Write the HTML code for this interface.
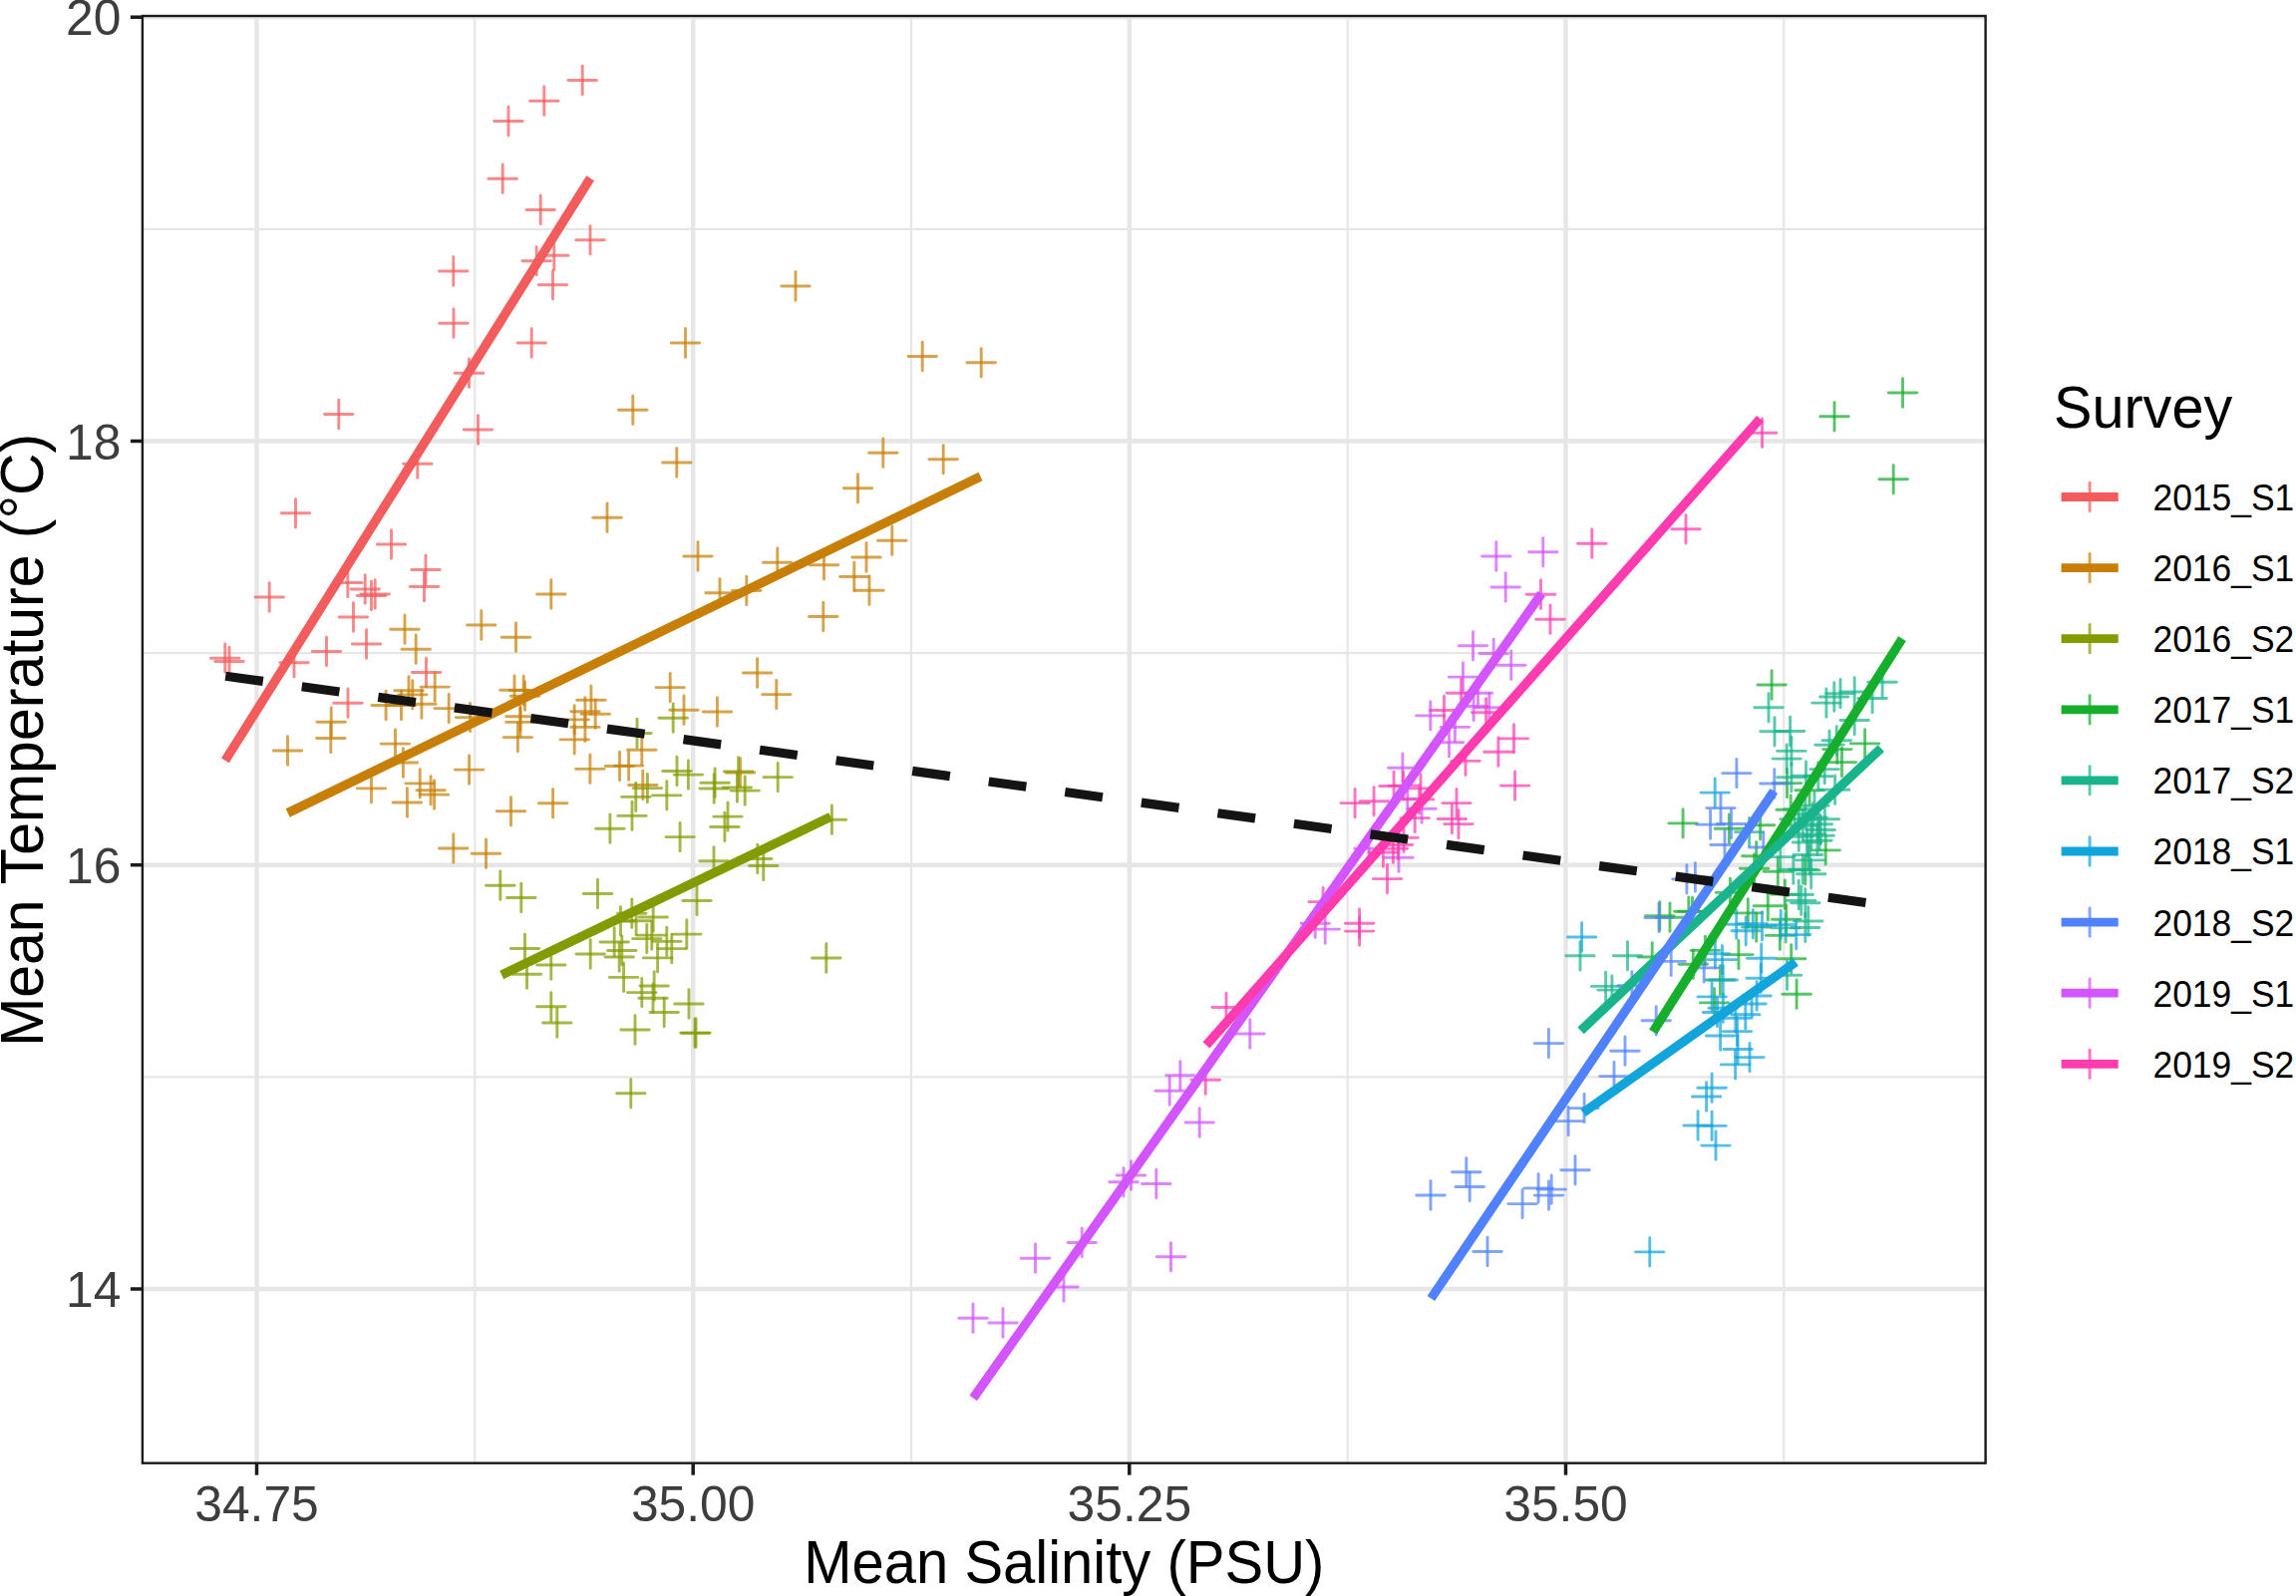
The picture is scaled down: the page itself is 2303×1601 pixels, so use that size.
<!DOCTYPE html><html><head><meta charset="utf-8"><title>Mean Temperature vs Mean Salinity</title>
<style>html,body{margin:0;padding:0;background:#fff}body{width:2303px;height:1601px;overflow:hidden}svg{display:block}text{font-family:"Liberation Sans",sans-serif}</style></head><body>
<svg width="2303" height="1601" viewBox="0 0 2303 1601">
<rect width="2303" height="1601" fill="#fff"/>
<g stroke="#e6e6e6" fill="none">
<line x1="476.3" x2="476.3" y1="16.0" y2="1467.7" stroke-width="2.2"/>
<line x1="914.0" x2="914.0" y1="16.0" y2="1467.7" stroke-width="2.2"/>
<line x1="1351.7" x2="1351.7" y1="16.0" y2="1467.7" stroke-width="2.2"/>
<line x1="1789.3" x2="1789.3" y1="16.0" y2="1467.7" stroke-width="2.2"/>
<line x1="142.9" x2="1991.6" y1="229.8" y2="229.8" stroke-width="2.2"/>
<line x1="142.9" x2="1991.6" y1="655.1" y2="655.1" stroke-width="2.2"/>
<line x1="142.9" x2="1991.6" y1="1080.4" y2="1080.4" stroke-width="2.2"/>
<line x1="257.5" x2="257.5" y1="16.0" y2="1467.7" stroke-width="4.4"/>
<line x1="695.2" x2="695.2" y1="16.0" y2="1467.7" stroke-width="4.4"/>
<line x1="1132.8" x2="1132.8" y1="16.0" y2="1467.7" stroke-width="4.4"/>
<line x1="1570.5" x2="1570.5" y1="16.0" y2="1467.7" stroke-width="4.4"/>
<line x1="142.9" x2="1991.6" y1="17.2" y2="17.2" stroke-width="4.4"/>
<line x1="142.9" x2="1991.6" y1="442.5" y2="442.5" stroke-width="4.4"/>
<line x1="142.9" x2="1991.6" y1="867.7" y2="867.7" stroke-width="4.4"/>
<line x1="142.9" x2="1991.6" y1="1293.0" y2="1293.0" stroke-width="4.4"/>
</g>
<clipPath id="cp"><rect x="142.9" y="16.0" width="1848.7" height="1451.7"/></clipPath>
<g clip-path="url(#cp)">
<g stroke="#F25C5C" stroke-opacity="0.72" stroke-width="2.9" stroke-linecap="round" fill="none"><path d="M570.0 80.5h28.4"/><path d="M584.2 66.3v28.4"/><path d="M531.6 101.2h28.4"/><path d="M545.8 87.0v28.4"/><path d="M495.8 121.5h28.4"/><path d="M510.0 107.3v28.4"/><path d="M490.0 179.2h28.4"/><path d="M504.2 165.0v28.4"/><path d="M528.0 210.5h28.4"/><path d="M542.2 196.3v28.4"/><path d="M577.8 240.8h28.4"/><path d="M592.0 226.6v28.4"/><path d="M541.6 256.2h28.4"/><path d="M555.8 242.0v28.4"/><path d="M524.0 261.8h28.4"/><path d="M538.2 247.6v28.4"/><path d="M540.3 285.8h28.4"/><path d="M554.5 271.6v28.4"/><path d="M440.6 272.0h28.4"/><path d="M454.8 257.8v28.4"/><path d="M440.8 324.2h28.4"/><path d="M455.0 310.0v28.4"/><path d="M519.0 344.0h28.4"/><path d="M533.2 329.8v28.4"/><path d="M456.3 374.2h28.4"/><path d="M470.5 360.0v28.4"/><path d="M325.6 415.5h28.4"/><path d="M339.8 401.3v28.4"/><path d="M465.3 431.0h28.4"/><path d="M479.5 416.8v28.4"/><path d="M404.6 465.2h28.4"/><path d="M418.8 451.0v28.4"/><path d="M282.3 514.8h28.4"/><path d="M296.5 500.6v28.4"/><path d="M378.3 546.0h28.4"/><path d="M392.5 531.8v28.4"/><path d="M412.8 571.5h28.4"/><path d="M427.0 557.3v28.4"/><path d="M411.3 588.5h28.4"/><path d="M425.5 574.3v28.4"/><path d="M334.6 584.5h28.4"/><path d="M348.8 570.3v28.4"/><path d="M352.0 591.0h28.4"/><path d="M366.2 576.8v28.4"/><path d="M358.3 597.5h28.4"/><path d="M372.5 583.3v28.4"/><path d="M362.0 596.0h28.4"/><path d="M376.2 581.8v28.4"/><path d="M256.0 599.0h28.4"/><path d="M270.2 584.8v28.4"/><path d="M340.3 619.0h28.4"/><path d="M354.5 604.8v28.4"/><path d="M353.3 646.0h28.4"/><path d="M367.5 631.8v28.4"/><path d="M313.3 653.5h28.4"/><path d="M327.5 639.3v28.4"/><path d="M211.6 660.2h28.4"/><path d="M225.8 646.0v28.4"/><path d="M215.8 663.5h28.4"/><path d="M230.0 649.3v28.4"/><path d="M280.8 664.8h28.4"/><path d="M295.0 650.6v28.4"/><path d="M413.3 674.5h28.4"/><path d="M427.5 660.3v28.4"/><path d="M334.8 705.2h28.4"/><path d="M349.0 691.0v28.4"/></g>
<g stroke="#C77F08" stroke-opacity="0.72" stroke-width="2.9" stroke-linecap="round" fill="none"><path d="M673.3 344.0h28.4"/><path d="M687.5 329.8v28.4"/><path d="M620.6 411.2h28.4"/><path d="M634.8 397.0v28.4"/><path d="M783.8 287.0h28.4"/><path d="M798.0 272.8v28.4"/><path d="M911.0 357.5h28.4"/><path d="M925.2 343.3v28.4"/><path d="M970.0 363.8h28.4"/><path d="M984.2 349.6v28.4"/><path d="M664.6 464.0h28.4"/><path d="M678.8 449.8v28.4"/><path d="M594.8 519.2h28.4"/><path d="M609.0 505.0v28.4"/><path d="M685.8 558.0h28.4"/><path d="M700.0 543.8v28.4"/><path d="M538.6 596.0h28.4"/><path d="M552.8 581.8v28.4"/><path d="M468.6 627.0h28.4"/><path d="M482.8 612.8v28.4"/><path d="M503.3 639.2h28.4"/><path d="M517.5 625.0v28.4"/><path d="M391.8 631.2h28.4"/><path d="M406.0 617.0v28.4"/><path d="M403.0 651.2h28.4"/><path d="M417.2 637.0v28.4"/><path d="M318.0 724.2h28.4"/><path d="M332.2 710.0v28.4"/><path d="M317.6 740.5h28.4"/><path d="M331.8 726.3v28.4"/><path d="M274.3 753.0h28.4"/><path d="M288.5 738.8v28.4"/><path d="M422.0 689.1h28.4"/><path d="M436.2 674.9v28.4"/><path d="M395.8 692.8h28.4"/><path d="M410.0 678.6v28.4"/><path d="M399.6 696.9h28.4"/><path d="M413.8 682.7v28.4"/><path d="M408.7 706.2h28.4"/><path d="M422.9 692.0v28.4"/><path d="M372.9 707.5h28.4"/><path d="M387.1 693.3v28.4"/><path d="M388.3 707.5h28.4"/><path d="M402.5 693.3v28.4"/><path d="M436.0 710.6h28.4"/><path d="M450.2 696.4v28.4"/><path d="M457.3 719.6h28.4"/><path d="M471.5 705.4v28.4"/><path d="M501.8 692.2h28.4"/><path d="M516.0 678.0v28.4"/><path d="M511.0 692.5h28.4"/><path d="M525.2 678.3v28.4"/><path d="M512.3 698.2h28.4"/><path d="M526.5 684.0v28.4"/><path d="M507.7 718.8h28.4"/><path d="M521.9 704.6v28.4"/><path d="M507.7 724.4h28.4"/><path d="M521.9 710.2v28.4"/><path d="M505.2 739.6h28.4"/><path d="M519.4 725.4v28.4"/><path d="M382.3 746.1h28.4"/><path d="M396.5 731.9v28.4"/><path d="M390.2 765.0h28.4"/><path d="M404.4 750.8v28.4"/><path d="M456.4 772.1h28.4"/><path d="M470.6 757.9v28.4"/><path d="M358.3 790.9h28.4"/><path d="M372.5 776.7v28.4"/><path d="M407.0 785.9h28.4"/><path d="M421.2 771.7v28.4"/><path d="M417.9 792.8h28.4"/><path d="M432.1 778.6v28.4"/><path d="M421.4 797.1h28.4"/><path d="M435.6 782.9v28.4"/><path d="M394.2 805.0h28.4"/><path d="M408.4 790.8v28.4"/><path d="M498.3 813.8h28.4"/><path d="M512.5 799.6v28.4"/><path d="M540.4 805.8h28.4"/><path d="M554.6 791.6v28.4"/><path d="M577.7 771.4h28.4"/><path d="M591.9 757.2v28.4"/><path d="M607.3 768.5h28.4"/><path d="M621.5 754.3v28.4"/><path d="M578.7 702.2h28.4"/><path d="M592.9 688.0v28.4"/><path d="M572.7 713.8h28.4"/><path d="M586.9 699.6v28.4"/><path d="M583.0 716.2h28.4"/><path d="M597.2 702.0v28.4"/><path d="M562.0 721.9h28.4"/><path d="M576.2 707.7v28.4"/><path d="M572.7 729.4h28.4"/><path d="M586.9 715.2v28.4"/><path d="M562.0 741.9h28.4"/><path d="M576.2 727.7v28.4"/><path d="M658.0 689.6h28.4"/><path d="M672.2 675.4v28.4"/><path d="M671.8 712.2h28.4"/><path d="M686.0 698.0v28.4"/><path d="M705.2 714.0h28.4"/><path d="M719.4 699.8v28.4"/><path d="M745.4 675.0h28.4"/><path d="M759.6 660.8v28.4"/><path d="M764.6 696.6h28.4"/><path d="M778.8 682.4v28.4"/><path d="M629.6 752.2h28.4"/><path d="M643.8 738.0v28.4"/><path d="M616.4 768.1h28.4"/><path d="M630.6 753.9v28.4"/><path d="M630.6 787.5h28.4"/><path d="M644.8 773.3v28.4"/><path d="M728.3 775.0h28.4"/><path d="M742.5 760.8v28.4"/><path d="M871.6 454.2h28.4"/><path d="M885.8 440.0v28.4"/><path d="M932.0 460.8h28.4"/><path d="M946.2 446.6v28.4"/><path d="M846.3 489.8h28.4"/><path d="M860.5 475.6v28.4"/><path d="M880.6 542.2h28.4"/><path d="M894.8 528.0v28.4"/><path d="M854.8 559.0h28.4"/><path d="M869.0 544.8v28.4"/><path d="M812.3 566.8h28.4"/><path d="M826.5 552.6v28.4"/><path d="M765.6 564.2h28.4"/><path d="M779.8 550.0v28.4"/><path d="M842.6 578.5h28.4"/><path d="M856.8 564.3v28.4"/><path d="M857.8 592.2h28.4"/><path d="M872.0 578.0v28.4"/><path d="M734.6 592.5h28.4"/><path d="M748.8 578.3v28.4"/><path d="M707.8 594.8h28.4"/><path d="M722.0 580.6v28.4"/><path d="M811.6 618.5h28.4"/><path d="M825.8 604.3v28.4"/><path d="M440.6 851.0h28.4"/><path d="M454.8 836.8v28.4"/><path d="M473.3 856.2h28.4"/><path d="M487.5 842.0v28.4"/></g>
<g stroke="#849B00" stroke-opacity="0.72" stroke-width="2.9" stroke-linecap="round" fill="none"><path d="M597.7 831.2h28.4"/><path d="M611.9 817.0v28.4"/><path d="M661.0 720.2h28.4"/><path d="M675.2 706.0v28.4"/><path d="M624.8 735.5h28.4"/><path d="M639.0 721.3v28.4"/><path d="M664.8 773.5h28.4"/><path d="M679.0 759.3v28.4"/><path d="M676.2 777.1h28.4"/><path d="M690.4 762.9v28.4"/><path d="M635.2 790.6h28.4"/><path d="M649.4 776.4v28.4"/><path d="M623.6 799.4h28.4"/><path d="M637.8 785.2v28.4"/><path d="M654.6 797.9h28.4"/><path d="M668.8 783.7v28.4"/><path d="M619.8 818.4h28.4"/><path d="M634.0 804.2v28.4"/><path d="M667.9 839.6h28.4"/><path d="M682.1 825.4v28.4"/><path d="M702.9 785.2h28.4"/><path d="M717.1 771.0v28.4"/><path d="M702.0 791.0h28.4"/><path d="M716.2 776.8v28.4"/><path d="M726.4 774.0h28.4"/><path d="M740.6 759.8v28.4"/><path d="M725.2 790.0h28.4"/><path d="M739.4 775.8v28.4"/><path d="M733.0 793.1h28.4"/><path d="M747.2 778.9v28.4"/><path d="M766.0 779.6h28.4"/><path d="M780.2 765.4v28.4"/><path d="M715.8 819.1h28.4"/><path d="M730.0 804.9v28.4"/><path d="M712.7 829.5h28.4"/><path d="M726.9 815.3v28.4"/><path d="M820.2 822.2h28.4"/><path d="M834.4 808.0v28.4"/><path d="M701.8 863.8h28.4"/><path d="M716.0 849.6v28.4"/><path d="M745.6 861.5h28.4"/><path d="M759.8 847.3v28.4"/><path d="M751.6 868.5h28.4"/><path d="M765.8 854.3v28.4"/><path d="M487.6 888.2h28.4"/><path d="M501.8 874.0v28.4"/><path d="M508.6 900.5h28.4"/><path d="M522.8 886.3v28.4"/><path d="M585.3 896.5h28.4"/><path d="M599.5 882.3v28.4"/><path d="M684.8 903.5h28.4"/><path d="M699.0 889.3v28.4"/><path d="M512.3 951.5h28.4"/><path d="M526.5 937.3v28.4"/><path d="M514.3 977.2h28.4"/><path d="M528.5 963.0v28.4"/><path d="M538.6 968.0h28.4"/><path d="M552.8 953.8v28.4"/><path d="M578.0 957.0h28.4"/><path d="M592.2 942.8v28.4"/><path d="M538.6 1009.8h28.4"/><path d="M552.8 995.6v28.4"/><path d="M544.6 1026.0h28.4"/><path d="M558.8 1011.8v28.4"/><path d="M622.8 1033.0h28.4"/><path d="M637.0 1018.8v28.4"/><path d="M682.8 1036.2h28.4"/><path d="M697.0 1022.0v28.4"/><path d="M676.8 1007.0h28.4"/><path d="M691.0 992.8v28.4"/><path d="M652.0 1015.5h28.4"/><path d="M666.2 1001.3v28.4"/><path d="M814.6 961.0h28.4"/><path d="M828.8 946.8v28.4"/><path d="M618.6 1096.8h28.4"/><path d="M632.8 1082.6v28.4"/><path d="M619.6 916.2h28.4"/><path d="M633.8 902.0v28.4"/><path d="M608.3 924.0h28.4"/><path d="M622.5 909.8v28.4"/><path d="M623.9 923.8h28.4"/><path d="M638.1 909.6v28.4"/><path d="M641.0 920.0h28.4"/><path d="M655.2 905.8v28.4"/><path d="M639.6 938.1h28.4"/><path d="M653.8 923.9v28.4"/><path d="M634.6 941.6h28.4"/><path d="M648.8 927.4v28.4"/><path d="M654.6 944.4h28.4"/><path d="M668.8 930.2v28.4"/><path d="M674.6 937.1h28.4"/><path d="M688.8 922.9v28.4"/><path d="M659.6 951.6h28.4"/><path d="M673.8 937.4v28.4"/><path d="M645.4 960.9h28.4"/><path d="M659.6 946.7v28.4"/><path d="M602.0 945.0h28.4"/><path d="M616.2 930.8v28.4"/><path d="M609.6 953.5h28.4"/><path d="M623.8 939.3v28.4"/><path d="M607.0 960.0h28.4"/><path d="M621.2 945.8v28.4"/><path d="M611.4 980.4h28.4"/><path d="M625.6 966.2v28.4"/><path d="M642.0 989.0h28.4"/><path d="M656.2 974.8v28.4"/><path d="M629.6 995.6h28.4"/><path d="M643.8 981.4v28.4"/><path d="M640.8 1001.2h28.4"/><path d="M655.0 987.0v28.4"/><path d="M683.8 1036.1h28.4"/><path d="M698.0 1021.9v28.4"/></g>
<g stroke="#16AF2D" stroke-opacity="0.72" stroke-width="2.9" stroke-linecap="round" fill="none"><path d="M1894.3 394.0h28.4"/><path d="M1908.5 379.8v28.4"/><path d="M1825.8 417.8h28.4"/><path d="M1840.0 403.6v28.4"/><path d="M1885.0 480.8h28.4"/><path d="M1899.2 466.6v28.4"/><path d="M1762.9 687.0h28.4"/><path d="M1777.1 672.8v28.4"/><path d="M1856.4 745.9h28.4"/><path d="M1870.6 731.7v28.4"/><path d="M1828.6 751.6h28.4"/><path d="M1842.8 737.4v28.4"/><path d="M1833.3 764.6h28.4"/><path d="M1847.5 750.4v28.4"/><path d="M1673.9 825.9h28.4"/><path d="M1688.1 811.7v28.4"/><path d="M1720.2 831.2h28.4"/><path d="M1734.4 817.0v28.4"/><path d="M1751.4 827.8h28.4"/><path d="M1765.6 813.6v28.4"/><path d="M1778.3 785.6h28.4"/><path d="M1792.5 771.4v28.4"/><path d="M1800.8 792.8h28.4"/><path d="M1815.0 778.6v28.4"/><path d="M1782.0 812.2h28.4"/><path d="M1796.2 798.0v28.4"/><path d="M1747.5 858.8h28.4"/><path d="M1761.7 844.6v28.4"/><path d="M1745.4 871.2h28.4"/><path d="M1759.6 857.0v28.4"/><path d="M1769.1 874.2h28.4"/><path d="M1783.3 860.0v28.4"/><path d="M1817.0 852.9h28.4"/><path d="M1831.2 838.7v28.4"/><path d="M1721.2 895.4h28.4"/><path d="M1735.4 881.2v28.4"/><path d="M1776.2 897.1h28.4"/><path d="M1790.4 882.9v28.4"/><path d="M1796.6 872.9h28.4"/><path d="M1810.8 858.7v28.4"/><path d="M1759.1 908.8h28.4"/><path d="M1773.3 894.6v28.4"/><path d="M1739.1 915.9h28.4"/><path d="M1753.3 901.7v28.4"/><path d="M1777.5 922.2h28.4"/><path d="M1791.7 908.0v28.4"/><path d="M1747.5 930.1h28.4"/><path d="M1761.7 915.9v28.4"/><path d="M1771.2 938.4h28.4"/><path d="M1785.4 924.2v28.4"/><path d="M1729.7 957.6h28.4"/><path d="M1743.9 943.4v28.4"/><path d="M1696.2 953.4h28.4"/><path d="M1710.4 939.2v28.4"/><path d="M1782.5 961.8h28.4"/><path d="M1796.7 947.6v28.4"/><path d="M1711.2 983.0h28.4"/><path d="M1725.4 968.8v28.4"/><path d="M1787.9 997.2h28.4"/><path d="M1802.1 983.0v28.4"/><path d="M1705.4 1005.9h28.4"/><path d="M1719.6 991.7v28.4"/><path d="M1684.1 967.2h28.4"/><path d="M1698.3 953.0v28.4"/><path d="M1679.6 914.2h28.4"/><path d="M1693.8 900.0v28.4"/><path d="M1650.6 918.8h28.4"/><path d="M1664.8 904.6v28.4"/><path d="M1660.8 920.2h28.4"/><path d="M1675.0 906.0v28.4"/><path d="M1683.3 914.4h28.4"/><path d="M1697.5 900.2v28.4"/><path d="M1643.0 960.0h28.4"/><path d="M1657.2 945.8v28.4"/></g>
<g stroke="#19B48C" stroke-opacity="0.72" stroke-width="2.9" stroke-linecap="round" fill="none"><path d="M1759.8 709.8h28.4"/><path d="M1774.0 695.6v28.4"/><path d="M1765.8 733.8h28.4"/><path d="M1780.0 719.6v28.4"/><path d="M1781.4 733.5h28.4"/><path d="M1795.6 719.3v28.4"/><path d="M1782.7 753.4h28.4"/><path d="M1796.9 739.2v28.4"/><path d="M1778.0 761.1h28.4"/><path d="M1792.2 746.9v28.4"/><path d="M1873.9 684.2h28.4"/><path d="M1888.1 670.0v28.4"/><path d="M1863.9 700.5h28.4"/><path d="M1878.1 686.3v28.4"/><path d="M1846.0 694.0h28.4"/><path d="M1860.2 679.8v28.4"/><path d="M1831.8 695.6h28.4"/><path d="M1846.0 681.4v28.4"/><path d="M1825.6 699.0h28.4"/><path d="M1839.8 684.8v28.4"/><path d="M1817.7 705.1h28.4"/><path d="M1831.9 690.9v28.4"/><path d="M1846.0 722.5h28.4"/><path d="M1860.2 708.3v28.4"/><path d="M1828.0 742.8h28.4"/><path d="M1842.2 728.6v28.4"/><path d="M1820.8 747.2h28.4"/><path d="M1835.0 733.0v28.4"/><path d="M1816.0 771.6h28.4"/><path d="M1830.2 757.4v28.4"/><path d="M1797.3 778.1h28.4"/><path d="M1811.5 763.9v28.4"/><path d="M1782.7 779.8h28.4"/><path d="M1796.9 765.6v28.4"/><path d="M1826.4 792.2h28.4"/><path d="M1840.6 778.0v28.4"/><path d="M1809.6 778.8h28.4"/><path d="M1823.8 764.6v28.4"/><path d="M1816.2 821.7h28.4"/><path d="M1830.4 807.5v28.4"/><path d="M1812.0 832.5h28.4"/><path d="M1826.2 818.3v28.4"/><path d="M1808.7 843.3h28.4"/><path d="M1822.9 829.1v28.4"/><path d="M1740.4 834.6h28.4"/><path d="M1754.6 820.4v28.4"/><path d="M1799.6 857.5h28.4"/><path d="M1813.8 843.3v28.4"/><path d="M1801.2 862.9h28.4"/><path d="M1815.4 848.7v28.4"/><path d="M1771.6 859.6h28.4"/><path d="M1785.8 845.4v28.4"/><path d="M1784.6 872.1h28.4"/><path d="M1798.8 857.9v28.4"/><path d="M1794.1 872.1h28.4"/><path d="M1808.3 857.9v28.4"/><path d="M1802.5 876.7h28.4"/><path d="M1816.7 862.5v28.4"/><path d="M1790.0 897.5h28.4"/><path d="M1804.2 883.3v28.4"/><path d="M1796.6 905.8h28.4"/><path d="M1810.8 891.6v28.4"/><path d="M1790.0 811.7h28.4"/><path d="M1804.2 797.5v28.4"/><path d="M1796.6 816.7h28.4"/><path d="M1810.8 802.5v28.4"/><path d="M1804.1 820.0h28.4"/><path d="M1818.3 805.8v28.4"/><path d="M1809.1 826.7h28.4"/><path d="M1823.3 812.5v28.4"/><path d="M1794.1 828.3h28.4"/><path d="M1808.3 814.1v28.4"/><path d="M1802.5 836.7h28.4"/><path d="M1816.7 822.5v28.4"/><path d="M1790.0 839.2h28.4"/><path d="M1804.2 825.0v28.4"/><path d="M1810.8 838.3h28.4"/><path d="M1825.0 824.1v28.4"/><path d="M1798.3 845.0h28.4"/><path d="M1812.5 830.8v28.4"/><path d="M1785.8 821.7h28.4"/><path d="M1800.0 807.5v28.4"/><path d="M1805.8 808.3h28.4"/><path d="M1820.0 794.1v28.4"/><path d="M1792.5 903.4h28.4"/><path d="M1806.7 889.2v28.4"/><path d="M1799.6 924.0h28.4"/><path d="M1813.8 909.8v28.4"/><path d="M1796.6 930.5h28.4"/><path d="M1810.8 916.3v28.4"/><path d="M1777.0 930.9h28.4"/><path d="M1791.2 916.7v28.4"/><path d="M1778.3 978.2h28.4"/><path d="M1792.5 964.0v28.4"/><path d="M1570.8 958.8h28.4"/><path d="M1585.0 944.6v28.4"/><path d="M1618.3 958.8h28.4"/><path d="M1632.5 944.6v28.4"/><path d="M1596.4 989.4h28.4"/><path d="M1610.6 975.2v28.4"/><path d="M1602.7 993.1h28.4"/><path d="M1616.9 978.9v28.4"/></g>
<g stroke="#12A5DC" stroke-opacity="0.72" stroke-width="2.9" stroke-linecap="round" fill="none"><path d="M1706.0 795.1h28.4"/><path d="M1720.2 780.9v28.4"/><path d="M1727.5 927.2h28.4"/><path d="M1741.7 913.0v28.4"/><path d="M1737.0 933.8h28.4"/><path d="M1751.2 919.6v28.4"/><path d="M1744.1 926.8h28.4"/><path d="M1758.3 912.6v28.4"/><path d="M1753.3 928.8h28.4"/><path d="M1767.5 914.6v28.4"/><path d="M1772.0 927.6h28.4"/><path d="M1786.2 913.4v28.4"/><path d="M1787.5 937.6h28.4"/><path d="M1801.7 923.4v28.4"/><path d="M1752.5 961.2h28.4"/><path d="M1766.7 947.0v28.4"/><path d="M1706.2 956.8h28.4"/><path d="M1720.4 942.6v28.4"/><path d="M1713.3 962.6h28.4"/><path d="M1727.5 948.4v28.4"/><path d="M1752.0 981.3h28.4"/><path d="M1766.2 967.1v28.4"/><path d="M1714.1 983.0h28.4"/><path d="M1728.3 968.8v28.4"/><path d="M1702.9 999.9h28.4"/><path d="M1717.1 985.7v28.4"/><path d="M1747.9 999.0h28.4"/><path d="M1762.1 984.8v28.4"/><path d="M1742.9 1007.0h28.4"/><path d="M1757.1 992.8v28.4"/><path d="M1714.1 1011.3h28.4"/><path d="M1728.3 997.1v28.4"/><path d="M1708.3 1015.5h28.4"/><path d="M1722.5 1001.3v28.4"/><path d="M1736.6 1017.8h28.4"/><path d="M1750.8 1003.6v28.4"/><path d="M1726.6 1021.3h28.4"/><path d="M1740.8 1007.1v28.4"/><path d="M1572.4 940.0h28.4"/><path d="M1586.6 925.8v28.4"/><path d="M1728.3 1034.6h28.4"/><path d="M1742.5 1020.4v28.4"/><path d="M1711.4 1039.0h28.4"/><path d="M1725.6 1024.8v28.4"/><path d="M1728.9 1052.5h28.4"/><path d="M1743.1 1038.3v28.4"/><path d="M1740.8 1060.6h28.4"/><path d="M1755.0 1046.4v28.4"/><path d="M1726.4 1067.9h28.4"/><path d="M1740.6 1053.7v28.4"/><path d="M1702.9 1091.2h28.4"/><path d="M1717.1 1077.0v28.4"/><path d="M1697.4 1100.0h28.4"/><path d="M1711.6 1085.8v28.4"/><path d="M1688.9 1129.0h28.4"/><path d="M1703.1 1114.8v28.4"/><path d="M1702.9 1129.4h28.4"/><path d="M1717.1 1115.2v28.4"/><path d="M1706.8 1149.1h28.4"/><path d="M1721.0 1134.9v28.4"/><path d="M1640.6 1255.9h28.4"/><path d="M1654.8 1241.7v28.4"/></g>
<g stroke="#5082FF" stroke-opacity="0.72" stroke-width="2.9" stroke-linecap="round" fill="none"><path d="M1420.8 1199.0h28.4"/><path d="M1435.0 1184.8v28.4"/><path d="M1456.6 1175.8h28.4"/><path d="M1470.8 1161.6v28.4"/><path d="M1460.0 1190.5h28.4"/><path d="M1474.2 1176.3v28.4"/><path d="M1477.8 1255.5h28.4"/><path d="M1492.0 1241.3v28.4"/><path d="M1727.7 775.6h28.4"/><path d="M1741.9 761.4v28.4"/><path d="M1765.6 786.0h28.4"/><path d="M1779.8 771.8v28.4"/><path d="M1711.8 810.6h28.4"/><path d="M1726.0 796.4v28.4"/><path d="M1701.4 827.1h28.4"/><path d="M1715.6 812.9v28.4"/><path d="M1722.3 826.5h28.4"/><path d="M1736.5 812.3v28.4"/><path d="M1715.8 847.5h28.4"/><path d="M1730.0 833.3v28.4"/><path d="M1754.6 850.0h28.4"/><path d="M1768.8 835.8v28.4"/><path d="M1686.2 880.0h28.4"/><path d="M1700.4 865.8v28.4"/><path d="M1695.0 970.9h28.4"/><path d="M1709.2 956.7v28.4"/><path d="M1649.8 920.6h28.4"/><path d="M1664.0 906.4v28.4"/><path d="M1677.7 881.9h28.4"/><path d="M1691.9 867.7v28.4"/><path d="M1662.0 964.4h28.4"/><path d="M1676.2 950.2v28.4"/><path d="M1622.7 988.8h28.4"/><path d="M1636.9 974.6v28.4"/><path d="M1539.2 1046.6h28.4"/><path d="M1553.4 1032.4v28.4"/><path d="M1647.0 1023.8h28.4"/><path d="M1661.2 1009.6v28.4"/><path d="M1615.8 1054.2h28.4"/><path d="M1630.0 1040.0v28.4"/><path d="M1604.8 1079.6h28.4"/><path d="M1619.0 1065.4v28.4"/><path d="M1574.9 1111.6h28.4"/><path d="M1589.1 1097.4v28.4"/><path d="M1558.9 1124.6h28.4"/><path d="M1573.1 1110.4v28.4"/><path d="M1565.8 1173.8h28.4"/><path d="M1580.0 1159.6v28.4"/><path d="M1512.9 1207.6h28.4"/><path d="M1527.1 1193.4v28.4"/><path d="M1528.9 1191.9h28.4"/><path d="M1543.1 1177.7v28.4"/><path d="M1539.3 1199.1h28.4"/><path d="M1553.5 1184.9v28.4"/><path d="M1542.0 1193.1h28.4"/><path d="M1556.2 1178.9v28.4"/></g>
<g stroke="#D255FF" stroke-opacity="0.72" stroke-width="2.9" stroke-linecap="round" fill="none"><path d="M1486.6 558.0h28.4"/><path d="M1500.8 543.8v28.4"/><path d="M1533.6 553.8h28.4"/><path d="M1547.8 539.6v28.4"/><path d="M1496.0 589.0h28.4"/><path d="M1510.2 574.8v28.4"/><path d="M1463.3 647.8h28.4"/><path d="M1477.5 633.6v28.4"/><path d="M1484.0 655.5h28.4"/><path d="M1498.2 641.3v28.4"/><path d="M1501.6 667.2h28.4"/><path d="M1515.8 653.0v28.4"/><path d="M1239.6 1037.0h28.4"/><path d="M1253.8 1022.8v28.4"/><path d="M1169.6 1078.8h28.4"/><path d="M1183.8 1064.6v28.4"/><path d="M1159.0 1094.2h28.4"/><path d="M1173.2 1080.0v28.4"/><path d="M1189.0 1126.0h28.4"/><path d="M1203.2 1111.8v28.4"/><path d="M1120.3 1179.0h28.4"/><path d="M1134.5 1164.8v28.4"/><path d="M1112.8 1185.8h28.4"/><path d="M1127.0 1171.6v28.4"/><path d="M1145.6 1187.5h28.4"/><path d="M1159.8 1173.3v28.4"/><path d="M1071.0 1246.5h28.4"/><path d="M1085.2 1232.3v28.4"/><path d="M1024.3 1262.2h28.4"/><path d="M1038.5 1248.0v28.4"/><path d="M1160.3 1260.8h28.4"/><path d="M1174.5 1246.6v28.4"/><path d="M1052.8 1291.0h28.4"/><path d="M1067.0 1276.8v28.4"/><path d="M961.8 1322.2h28.4"/><path d="M976.0 1308.0v28.4"/><path d="M991.8 1327.0h28.4"/><path d="M1006.0 1312.8v28.4"/><path d="M1453.3 679.1h28.4"/><path d="M1467.5 664.9v28.4"/><path d="M1468.3 695.2h28.4"/><path d="M1482.5 681.0v28.4"/><path d="M1463.9 708.5h28.4"/><path d="M1478.1 694.3v28.4"/><path d="M1479.6 709.8h28.4"/><path d="M1493.8 695.6v28.4"/><path d="M1420.6 717.9h28.4"/><path d="M1434.8 703.7v28.4"/><path d="M1445.2 729.4h28.4"/><path d="M1459.4 715.2v28.4"/><path d="M1439.3 744.8h28.4"/><path d="M1453.5 730.6v28.4"/><path d="M1392.7 770.2h28.4"/><path d="M1406.9 756.0v28.4"/><path d="M1411.9 811.2h28.4"/><path d="M1426.1 797.0v28.4"/><path d="M1397.6 801.2h28.4"/><path d="M1411.8 787.0v28.4"/><path d="M1388.8 860.2h28.4"/><path d="M1403.0 846.0v28.4"/><path d="M1358.8 851.2h28.4"/><path d="M1373.0 837.0v28.4"/><path d="M1315.0 932.1h28.4"/><path d="M1329.2 917.9v28.4"/><path d="M1305.0 926.2h28.4"/><path d="M1319.2 912.0v28.4"/></g>
<g stroke="#FF3CAF" stroke-opacity="0.72" stroke-width="2.9" stroke-linecap="round" fill="none"><path d="M1753.3 434.2h28.4"/><path d="M1767.5 420.0v28.4"/><path d="M1676.8 530.8h28.4"/><path d="M1691.0 516.6v28.4"/><path d="M1582.6 545.2h28.4"/><path d="M1596.8 531.0v28.4"/><path d="M1531.3 596.2h28.4"/><path d="M1545.5 582.0v28.4"/><path d="M1540.8 621.2h28.4"/><path d="M1555.0 607.0v28.4"/><path d="M1215.8 1010.5h28.4"/><path d="M1230.0 996.3v28.4"/><path d="M1195.0 1083.2h28.4"/><path d="M1209.2 1069.0v28.4"/><path d="M1451.4 695.2h28.4"/><path d="M1465.6 681.0v28.4"/><path d="M1434.3 712.5h28.4"/><path d="M1448.5 698.3v28.4"/><path d="M1476.4 714.8h28.4"/><path d="M1490.6 700.6v28.4"/><path d="M1504.3 740.9h28.4"/><path d="M1518.5 726.7v28.4"/><path d="M1488.7 754.2h28.4"/><path d="M1502.9 740.0v28.4"/><path d="M1455.8 763.4h28.4"/><path d="M1470.0 749.2v28.4"/><path d="M1505.4 788.1h28.4"/><path d="M1519.6 773.9v28.4"/><path d="M1383.9 788.5h28.4"/><path d="M1398.1 774.3v28.4"/><path d="M1393.3 788.1h28.4"/><path d="M1407.5 773.9v28.4"/><path d="M1410.8 790.9h28.4"/><path d="M1425.0 776.7v28.4"/><path d="M1344.9 805.6h28.4"/><path d="M1359.1 791.4v28.4"/><path d="M1363.9 803.8h28.4"/><path d="M1378.1 789.6v28.4"/><path d="M1446.8 805.6h28.4"/><path d="M1461.0 791.4v28.4"/><path d="M1409.4 801.9h28.4"/><path d="M1423.6 787.7v28.4"/><path d="M1442.2 821.5h28.4"/><path d="M1456.4 807.3v28.4"/><path d="M1448.8 826.6h28.4"/><path d="M1463.0 812.4v28.4"/><path d="M1405.0 820.6h28.4"/><path d="M1419.2 806.4v28.4"/><path d="M1393.8 840.4h28.4"/><path d="M1408.0 826.2v28.4"/><path d="M1388.2 847.5h28.4"/><path d="M1402.4 833.3v28.4"/><path d="M1383.2 851.2h28.4"/><path d="M1397.4 837.0v28.4"/><path d="M1373.2 855.0h28.4"/><path d="M1387.4 840.8v28.4"/><path d="M1377.3 881.6h28.4"/><path d="M1391.5 867.4v28.4"/><path d="M1312.9 904.6h28.4"/><path d="M1327.1 890.4v28.4"/><path d="M1349.4 926.2h28.4"/><path d="M1363.6 912.0v28.4"/><path d="M1349.4 934.1h28.4"/><path d="M1363.6 919.9v28.4"/></g>
<line x1="225.9" y1="762.9" x2="592.1" y2="178.8" stroke="#F25C5C" stroke-width="9.2"/>
<line x1="288.7" y1="815.5" x2="983.5" y2="478.0" stroke="#C77F08" stroke-width="9.2"/>
<line x1="503.2" y1="978.0" x2="833.2" y2="819.3" stroke="#849B00" stroke-width="9.2"/>
<line x1="1658.1" y1="1035.0" x2="1908.0" y2="640.6" stroke="#16AF2D" stroke-width="9.2"/>
<line x1="1585.6" y1="1033.8" x2="1886.8" y2="750.6" stroke="#19B48C" stroke-width="9.2"/>
<line x1="1587.9" y1="1116.2" x2="1801.2" y2="965.1" stroke="#12A5DC" stroke-width="9.2"/>
<line x1="1435.4" y1="1302.5" x2="1779.3" y2="793.5" stroke="#5082FF" stroke-width="9.2"/>
<line x1="976.2" y1="1402.5" x2="1546.2" y2="595.5" stroke="#D255FF" stroke-width="9.2"/>
<line x1="1210.0" y1="1048.4" x2="1765.5" y2="420.0" stroke="#FF3CAF" stroke-width="9.2"/>
<line x1="226.2" y1="678.2" x2="1872.1" y2="905.6" stroke="#141414" stroke-width="9.2" stroke-dasharray="38 39.28"/>
</g>
<rect x="142.9" y="16.0" width="1848.7" height="1451.7" fill="none" stroke="#1a1a1a" stroke-width="2.4"/>
<g stroke="#1a1a1a" stroke-width="3.5">
<line x1="257.5" x2="257.5" y1="1467.7" y2="1479.7"/>
<line x1="695.2" x2="695.2" y1="1467.7" y2="1479.7"/>
<line x1="1132.8" x2="1132.8" y1="1467.7" y2="1479.7"/>
<line x1="1570.5" x2="1570.5" y1="1467.7" y2="1479.7"/>
<line x1="130.9" x2="142.9" y1="17.2" y2="17.2"/>
<line x1="130.9" x2="142.9" y1="442.5" y2="442.5"/>
<line x1="130.9" x2="142.9" y1="867.7" y2="867.7"/>
<line x1="130.9" x2="142.9" y1="1293.0" y2="1293.0"/>
</g>
<text transform="translate(257.5 1526.2) scale(1 1.005)" text-anchor="middle" font-size="49.8" fill="#3d3d3d">34.75</text>
<text transform="translate(695.2 1526.2) scale(1 1.005)" text-anchor="middle" font-size="49.8" fill="#3d3d3d">35.00</text>
<text transform="translate(1132.8 1526.2) scale(1 1.005)" text-anchor="middle" font-size="49.8" fill="#3d3d3d">35.25</text>
<text transform="translate(1570.5 1526.2) scale(1 1.005)" text-anchor="middle" font-size="49.8" fill="#3d3d3d">35.50</text>
<text transform="translate(121.4 35.4) scale(1 1.005)" text-anchor="end" font-size="49.8" fill="#3d3d3d">20</text>
<text transform="translate(121.4 460.7) scale(1 1.005)" text-anchor="end" font-size="49.8" fill="#3d3d3d">18</text>
<text transform="translate(121.4 885.9) scale(1 1.005)" text-anchor="end" font-size="49.8" fill="#3d3d3d">16</text>
<text transform="translate(121.4 1311.2) scale(1 1.005)" text-anchor="end" font-size="49.8" fill="#3d3d3d">14</text>
<text transform="translate(1067.3 1588.0) scale(1 1.040)" text-anchor="middle" font-size="58.0" fill="#000">Mean Salinity (PSU)</text>
<text transform="translate(42.8 742.3) rotate(-90) scale(1 1.040)" text-anchor="middle" font-size="58.9" fill="#000">Mean Temperature (°C)</text>
<text transform="translate(2060.0 429.0) scale(1 1.040)" text-anchor="start" font-size="57.6" fill="#000">Survey</text>
<path d="M2096.1 484.3v28.4" stroke="#F25C5C" stroke-opacity="0.72" stroke-width="2.9" stroke-linecap="round"/>
<line x1="2067.6" x2="2124.7" y1="498.5" y2="498.5" stroke="#F25C5C" stroke-width="8.8"/>
<text transform="translate(2159.5 511.9) scale(1 1.060)" text-anchor="start" font-size="35.4" fill="#000">2015_S1</text>
<path d="M2096.1 555.4v28.4" stroke="#C77F08" stroke-opacity="0.72" stroke-width="2.9" stroke-linecap="round"/>
<line x1="2067.6" x2="2124.7" y1="569.6" y2="569.6" stroke="#C77F08" stroke-width="8.8"/>
<text transform="translate(2159.5 583.0) scale(1 1.060)" text-anchor="start" font-size="35.4" fill="#000">2016_S1</text>
<path d="M2096.1 626.5v28.4" stroke="#849B00" stroke-opacity="0.72" stroke-width="2.9" stroke-linecap="round"/>
<line x1="2067.6" x2="2124.7" y1="640.7" y2="640.7" stroke="#849B00" stroke-width="8.8"/>
<text transform="translate(2159.5 654.1) scale(1 1.060)" text-anchor="start" font-size="35.4" fill="#000">2016_S2</text>
<path d="M2096.1 697.6v28.4" stroke="#16AF2D" stroke-opacity="0.72" stroke-width="2.9" stroke-linecap="round"/>
<line x1="2067.6" x2="2124.7" y1="711.8" y2="711.8" stroke="#16AF2D" stroke-width="8.8"/>
<text transform="translate(2159.5 725.2) scale(1 1.060)" text-anchor="start" font-size="35.4" fill="#000">2017_S1</text>
<path d="M2096.1 768.7v28.4" stroke="#19B48C" stroke-opacity="0.72" stroke-width="2.9" stroke-linecap="round"/>
<line x1="2067.6" x2="2124.7" y1="782.9" y2="782.9" stroke="#19B48C" stroke-width="8.8"/>
<text transform="translate(2159.5 796.3) scale(1 1.060)" text-anchor="start" font-size="35.4" fill="#000">2017_S2</text>
<path d="M2096.1 839.8v28.4" stroke="#12A5DC" stroke-opacity="0.72" stroke-width="2.9" stroke-linecap="round"/>
<line x1="2067.6" x2="2124.7" y1="854.0" y2="854.0" stroke="#12A5DC" stroke-width="8.8"/>
<text transform="translate(2159.5 867.4) scale(1 1.060)" text-anchor="start" font-size="35.4" fill="#000">2018_S1</text>
<path d="M2096.1 910.9v28.4" stroke="#5082FF" stroke-opacity="0.72" stroke-width="2.9" stroke-linecap="round"/>
<line x1="2067.6" x2="2124.7" y1="925.1" y2="925.1" stroke="#5082FF" stroke-width="8.8"/>
<text transform="translate(2159.5 938.5) scale(1 1.060)" text-anchor="start" font-size="35.4" fill="#000">2018_S2</text>
<path d="M2096.1 982.0v28.4" stroke="#D255FF" stroke-opacity="0.72" stroke-width="2.9" stroke-linecap="round"/>
<line x1="2067.6" x2="2124.7" y1="996.2" y2="996.2" stroke="#D255FF" stroke-width="8.8"/>
<text transform="translate(2159.5 1009.6) scale(1 1.060)" text-anchor="start" font-size="35.4" fill="#000">2019_S1</text>
<path d="M2096.1 1053.1v28.4" stroke="#FF3CAF" stroke-opacity="0.72" stroke-width="2.9" stroke-linecap="round"/>
<line x1="2067.6" x2="2124.7" y1="1067.3" y2="1067.3" stroke="#FF3CAF" stroke-width="8.8"/>
<text transform="translate(2159.5 1080.7) scale(1 1.060)" text-anchor="start" font-size="35.4" fill="#000">2019_S2</text>
</svg></body></html>
